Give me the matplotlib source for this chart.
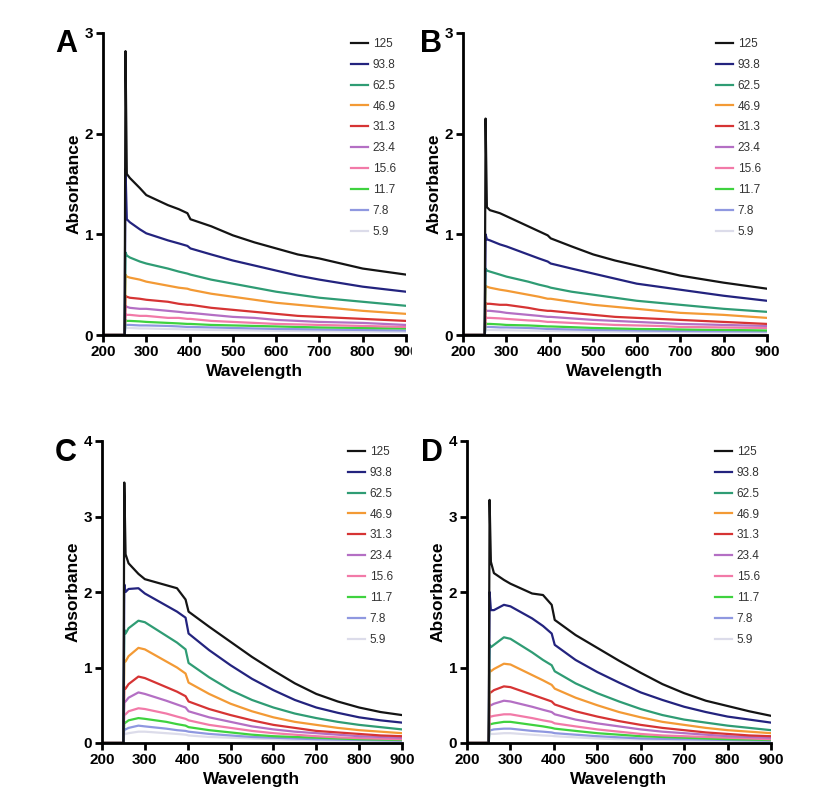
import matplotlib
matplotlib.use("Agg")
import matplotlib.pyplot as plt
from matplotlib.patches import Rectangle

plt.rcParams['font.family'] = ['Liberation Sans', 'DejaVu Sans']

# ---- data ----
wavelength = [200, 250, 252, 255, 262, 285, 300, 350, 375, 395, 402,
              450, 500, 550, 600, 650, 700, 750, 800, 850, 900]

conc_labels = ["125", "93.8", "62.5", "46.9", "31.3", "23.4", "15.6", "11.7", "7.8", "5.9"]
colors = ["#141414", "#23237e", "#2f9c74", "#f39a35", "#d63434",
          "#b46fc4", "#f27aa8", "#3fd23f", "#8f98e0", "#dcdcea"]

absA = [
    [0, 0, 2.82, 1.60, 1.56, 1.46, 1.39, 1.29, 1.25, 1.21, 1.15, 1.08, 0.99, 0.92, 0.86, 0.80, 0.76, 0.71, 0.66, 0.63, 0.60],
    [0, 0, 1.65, 1.15, 1.12, 1.05, 1.01, 0.94, 0.91, 0.885, 0.86, 0.80, 0.74, 0.69, 0.64, 0.59, 0.55, 0.515, 0.48, 0.455, 0.43],
    [0, 0, 0.82, 0.79, 0.77, 0.73, 0.71, 0.66, 0.63, 0.61, 0.60, 0.55, 0.51, 0.47, 0.43, 0.40, 0.37, 0.35, 0.33, 0.31, 0.29],
    [0, 0, 0.60, 0.58, 0.57, 0.55, 0.53, 0.49, 0.47, 0.46, 0.45, 0.41, 0.38, 0.35, 0.32, 0.30, 0.28, 0.26, 0.24, 0.225, 0.21],
    [0, 0, 0.39, 0.38, 0.37, 0.36, 0.35, 0.33, 0.31, 0.30, 0.30, 0.27, 0.25, 0.23, 0.21, 0.19, 0.18, 0.17, 0.16, 0.15, 0.14],
    [0, 0, 0.29, 0.28, 0.27, 0.26, 0.26, 0.24, 0.23, 0.22, 0.22, 0.20, 0.18, 0.17, 0.15, 0.14, 0.13, 0.125, 0.12, 0.11, 0.10],
    [0, 0, 0.21, 0.20, 0.20, 0.19, 0.19, 0.17, 0.17, 0.16, 0.16, 0.14, 0.13, 0.12, 0.11, 0.105, 0.10, 0.095, 0.09, 0.085, 0.08],
    [0, 0, 0.15, 0.14, 0.14, 0.135, 0.13, 0.12, 0.115, 0.11, 0.11, 0.10, 0.095, 0.09, 0.085, 0.08, 0.075, 0.072, 0.07, 0.067, 0.065],
    [0, 0, 0.10, 0.10, 0.10, 0.095, 0.095, 0.09, 0.085, 0.08, 0.08, 0.075, 0.07, 0.065, 0.06, 0.058, 0.055, 0.052, 0.05, 0.047, 0.045],
    [0, 0, 0.07, 0.07, 0.07, 0.065, 0.065, 0.06, 0.058, 0.055, 0.055, 0.05, 0.048, 0.045, 0.042, 0.04, 0.038, 0.036, 0.035, 0.032, 0.03],
]

absB = [
    [0, 0, 2.15, 1.27, 1.24, 1.21, 1.18, 1.08, 1.03, 0.99, 0.96, 0.88, 0.80, 0.74, 0.69, 0.64, 0.59, 0.555, 0.52, 0.49, 0.46],
    [0, 0, 1.00, 0.95, 0.94, 0.90, 0.88, 0.80, 0.76, 0.73, 0.71, 0.66, 0.61, 0.56, 0.51, 0.48, 0.45, 0.42, 0.39, 0.365, 0.34],
    [0, 0, 0.66, 0.64, 0.63, 0.60, 0.58, 0.53, 0.50, 0.48, 0.47, 0.43, 0.40, 0.37, 0.34, 0.32, 0.30, 0.28, 0.26, 0.245, 0.23],
    [0, 0, 0.49, 0.48, 0.47, 0.45, 0.44, 0.40, 0.38, 0.36, 0.36, 0.33, 0.30, 0.28, 0.26, 0.24, 0.22, 0.21, 0.20, 0.185, 0.17],
    [0, 0, 0.32, 0.31, 0.31, 0.30, 0.30, 0.27, 0.25, 0.24, 0.24, 0.22, 0.20, 0.18, 0.17, 0.16, 0.15, 0.14, 0.13, 0.12, 0.11],
    [0, 0, 0.25, 0.24, 0.24, 0.23, 0.22, 0.20, 0.19, 0.18, 0.18, 0.165, 0.15, 0.14, 0.13, 0.12, 0.11, 0.105, 0.10, 0.095, 0.09],
    [0, 0, 0.18, 0.17, 0.17, 0.165, 0.16, 0.145, 0.14, 0.13, 0.13, 0.12, 0.11, 0.10, 0.095, 0.09, 0.08, 0.078, 0.075, 0.072, 0.07],
    [0, 0, 0.12, 0.11, 0.11, 0.105, 0.10, 0.095, 0.09, 0.085, 0.085, 0.078, 0.07, 0.065, 0.06, 0.058, 0.055, 0.052, 0.05, 0.048, 0.045],
    [0, 0, 0.08, 0.08, 0.08, 0.075, 0.075, 0.07, 0.065, 0.06, 0.06, 0.055, 0.05, 0.048, 0.045, 0.042, 0.04, 0.038, 0.037, 0.036, 0.035],
    [0, 0, 0.05, 0.05, 0.05, 0.048, 0.047, 0.044, 0.042, 0.04, 0.04, 0.037, 0.035, 0.033, 0.031, 0.03, 0.028, 0.027, 0.026, 0.025, 0.024],
]

absC = [
    [0, 0, 3.45, 2.50, 2.38, 2.24, 2.17, 2.09, 2.05, 1.90, 1.74, 1.54, 1.34, 1.14, 0.96, 0.79, 0.65, 0.55, 0.47, 0.41, 0.37],
    [0, 0, 2.10, 2.00, 2.04, 2.05, 1.98, 1.82, 1.74, 1.66, 1.45, 1.23, 1.03, 0.85, 0.70, 0.57, 0.47, 0.40, 0.34, 0.30, 0.27],
    [0, 0, 1.50, 1.45, 1.52, 1.62, 1.60, 1.42, 1.33, 1.24, 1.06, 0.87, 0.70, 0.57, 0.47, 0.39, 0.33, 0.28, 0.24, 0.21, 0.18],
    [0, 0, 1.10, 1.08, 1.15, 1.26, 1.24, 1.08, 1.00, 0.92, 0.80, 0.65, 0.52, 0.42, 0.34, 0.28, 0.24, 0.20, 0.17, 0.15, 0.13],
    [0, 0, 0.74, 0.72, 0.78, 0.88, 0.86, 0.74, 0.68, 0.62, 0.55, 0.45, 0.37, 0.30, 0.24, 0.20, 0.16, 0.14, 0.12, 0.10, 0.09],
    [0, 0, 0.56, 0.55, 0.60, 0.67, 0.65, 0.56, 0.51, 0.47, 0.42, 0.34, 0.28, 0.22, 0.18, 0.15, 0.13, 0.11, 0.09, 0.08, 0.07],
    [0, 0, 0.39, 0.38, 0.42, 0.46, 0.45, 0.39, 0.35, 0.32, 0.30, 0.24, 0.20, 0.16, 0.13, 0.11, 0.09, 0.075, 0.065, 0.057, 0.05],
    [0, 0, 0.28, 0.27, 0.30, 0.33, 0.32, 0.28, 0.25, 0.23, 0.21, 0.17, 0.14, 0.11, 0.09, 0.08, 0.07, 0.06, 0.05, 0.045, 0.04],
    [0, 0, 0.19, 0.18, 0.20, 0.23, 0.22, 0.19, 0.17, 0.16, 0.15, 0.12, 0.10, 0.08, 0.07, 0.06, 0.05, 0.045, 0.04, 0.035, 0.03],
    [0, 0, 0.12, 0.12, 0.13, 0.15, 0.15, 0.13, 0.12, 0.11, 0.10, 0.08, 0.07, 0.06, 0.05, 0.04, 0.035, 0.032, 0.03, 0.025, 0.02],
]

absD = [
    [0, 0, 3.22, 2.40, 2.25, 2.16, 2.11, 1.98, 1.96, 1.83, 1.63, 1.43, 1.26, 1.09, 0.93, 0.78, 0.66, 0.56, 0.49, 0.42, 0.36],
    [0, 0, 2.00, 1.76, 1.76, 1.83, 1.81, 1.65, 1.55, 1.45, 1.30, 1.10, 0.94, 0.80, 0.67, 0.57, 0.48, 0.41, 0.35, 0.31, 0.27],
    [0, 0, 1.30, 1.27, 1.30, 1.40, 1.38, 1.20, 1.10, 1.03, 0.95, 0.79, 0.66, 0.55, 0.45, 0.37, 0.31, 0.27, 0.23, 0.20, 0.17],
    [0, 0, 0.97, 0.95, 0.98, 1.05, 1.04, 0.90, 0.83, 0.77, 0.72, 0.60, 0.50, 0.41, 0.34, 0.28, 0.24, 0.20, 0.17, 0.15, 0.13],
    [0, 0, 0.68, 0.67, 0.70, 0.75, 0.74, 0.64, 0.59, 0.55, 0.51, 0.42, 0.35, 0.29, 0.24, 0.20, 0.17, 0.14, 0.12, 0.10, 0.09],
    [0, 0, 0.51, 0.50, 0.52, 0.56, 0.55, 0.48, 0.44, 0.41, 0.38, 0.31, 0.26, 0.22, 0.18, 0.15, 0.13, 0.11, 0.09, 0.08, 0.07],
    [0, 0, 0.36, 0.35, 0.36, 0.38, 0.38, 0.33, 0.30, 0.28, 0.26, 0.22, 0.18, 0.15, 0.12, 0.10, 0.09, 0.08, 0.07, 0.06, 0.05],
    [0, 0, 0.26, 0.25, 0.26, 0.28, 0.28, 0.24, 0.22, 0.20, 0.19, 0.16, 0.13, 0.11, 0.09, 0.08, 0.07, 0.06, 0.05, 0.045, 0.04],
    [0, 0, 0.17, 0.17, 0.18, 0.19, 0.19, 0.16, 0.15, 0.14, 0.13, 0.11, 0.09, 0.075, 0.06, 0.055, 0.05, 0.045, 0.04, 0.035, 0.03],
    [0, 0, 0.12, 0.12, 0.12, 0.13, 0.13, 0.11, 0.10, 0.095, 0.09, 0.075, 0.06, 0.05, 0.045, 0.04, 0.035, 0.032, 0.03, 0.025, 0.02],
]

# letter, data, y max, axes box in px (left, top, right, bottom), legend start px (x, y), letter px (x, baseline)
panels = [
    ("A", absA, 3, (103, 33, 406, 335), (351, 38), (55, 52)),
    ("B", absB, 3, (463, 33, 767, 335), (716, 38), (420, 52)),
    ("C", absC, 4, (102, 441, 402, 743), (348, 446), (55, 461)),
    ("D", absD, 4, (467, 441, 771, 743), (715, 446), (421, 461)),
]

W, H = 819, 810
fig = plt.figure(figsize=(W / 100, H / 100), dpi=100)

for letter, data, ymax, (l, t, r, b), (lx, ly), (px, py) in panels:
    ax = fig.add_axes([l / W, 1 - b / H, (r - l) / W, (b - t) / H])
    # lowest concentration first so the darker curves sit on top
    for i in reversed(range(len(data))):
        ax.plot(wavelength, data[i], color=colors[i], lw=1.6, label=conc_labels[i],
                solid_joinstyle='round')
    ax.set_xlim(200, 900)
    ax.set_ylim(0, ymax)
    ax.set_xticks(range(200, 901, 100))
    ax.set_yticks(range(0, ymax + 1))
    for s in ("top", "right"):
        ax.spines[s].set_visible(False)
    for s in ("left", "bottom"):
        ax.spines[s].set_linewidth(2)
    ax.tick_params(direction='out', length=5, width=2, labelsize=11, pad=2)
    for lab in ax.get_xticklabels() + ax.get_yticklabels():
        lab.set_fontweight('bold')
    ax.set_xlabel("Wavelength", fontsize=12.5, fontweight='bold', labelpad=4)
    ax.set_ylabel("Absorbance", fontsize=12.5, fontweight='bold', labelpad=2)

    h, lb = ax.get_legend_handles_labels()
    leg = ax.legend(h[::-1], lb[::-1], loc='upper left',
                    bbox_to_anchor=((lx - l) / (r - l), (b - ly) / (b - t)),
                    frameon=False, fontsize=8.5, handlelength=1.4, handletextpad=0.45,
                    labelspacing=0.75, borderaxespad=0, borderpad=0)
    for txt in leg.get_texts():
        txt.set_color('#333333')
    for ln in leg.get_lines():
        ln.set_linewidth(1.6)

    fig.text(px / W, 1 - py / H, letter, fontsize=22, fontweight='bold',
             ha='left', va='baseline')

# panel A's last tick label is cut by panel B in the original composite
fig.patches.append(Rectangle((412 / W, 1 - 362 / H), 25 / W, 24 / H,
                             transform=fig.transFigure, color='white', zorder=10))

fig.savefig("out.png", dpi=100)
